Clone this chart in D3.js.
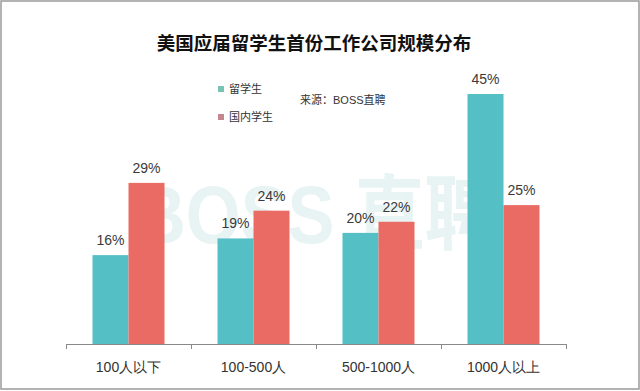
<!DOCTYPE html>
<html>
<head>
<meta charset="utf-8">
<script src="https://cdn.jsdelivr.net/npm/d3@7"></script>
<style>
  body { margin: 0; background: #fff; }
  svg { display: block; font-family: 'Liberation Sans', 'Noto Sans CJK SC', sans-serif; }
</style>
</head>
<body>
<svg></svg>
<script>
const categories = ['100人以下', '100-500人', '500-1000人', '1000人以上']
const seriesNames = ['留学生', '国内学生']
const overseas = [16, 19, 20, 45]
const domestic = [29, 24, 22, 25]

const title = '美国应届留学生首份工作公司规模分布'
const source = '来源：BOSS直聘'

const colors = ['#55bfc6', '#e96b63']
const legendColors = ['#79c3b3', '#c5878f']

const width = 640
const height = 391
const margin = ({
  top: 94,
  right: 74,
  bottom: 47,
  left: 66
})

const svg = d3.select('svg')
  .attr('width', width)
  .attr('height', height)

// one row per category
const dataset = categories.map((c, i) => ({ category: c, values: [overseas[i], domestic[i]] }))

const x = d3.scaleBand()
  .domain(categories)
  .range([margin.left, width - margin.right])

const x1 = d3.scaleBand()
  .domain(seriesNames)
  .range([0, 72])

const y = d3.scaleLinear()
  .domain([0, 45])
  .range([height - margin.bottom, margin.top])

// frame round the picture
svg.append('rect')
  .attr('x', 1)
  .attr('y', 1)
  .attr('width', 638)
  .attr('height', 388)
  .attr('fill', 'none')
  .attr('stroke', '#9a9a9a')
  .attr('stroke-width', 1.5)

// faint watermark
svg.append('text')
  .attr('x', 135)
  .attr('y', 243)
  .attr('font-size', 82)
  .attr('font-weight', 'bold')
  .attr('fill', '#e8f3f3')
  .attr('textLength', 360)
  .attr('lengthAdjust', 'spacingAndGlyphs')
  .text('BOSS 直聘')

svg.append('text')
  .attr('x', 314)
  .attr('y', 50)
  .attr('text-anchor', 'middle')
  .attr('font-family', 'Noto Sans CJK SC')
  .attr('font-size', 18.5)
  .attr('font-weight', 'bold')
  .attr('fill', '#111')
  .text(title)

function legend (g) {
  const row = g.selectAll('g')
    .data(seriesNames)
    .enter().append('g')
    .attr('transform', (d, i) => `translate(218,${89 + i * 28})`)
  row.append('rect')
    .attr('x', 0)
    .attr('y', -3)
    .attr('width', 6)
    .attr('height', 6)
    .attr('fill', (d, i) => legendColors[i])
  row.append('text')
    .attr('x', 11)
    .attr('y', 4)
    .attr('font-size', 11)
    .attr('fill', '#333')
    .text(d => d)
}

svg.append('g').call(legend)

svg.append('text')
  .attr('x', 300)
  .attr('y', 104)
  .attr('font-size', 11)
  .attr('fill', '#333')
  .text(source)

function bars (g) {
  const group = g.selectAll('g')
    .data(dataset)
    .enter().append('g')
    .attr('transform', d => `translate(${x(d.category) + (x.bandwidth() - 72) / 2},0)`)

  group.selectAll('rect')
    .data(d => d.values)
    .enter().append('rect')
    .attr('x', (d, i) => x1(seriesNames[i]))
    .attr('y', d => y(d))
    .attr('width', x1.bandwidth())
    .attr('height', d => y(0) - y(d))
    .attr('fill', (d, i) => colors[i])

  // value labels above the bars
  group.selectAll('text')
    .data(d => d.values)
    .enter().append('text')
    .attr('x', (d, i) => x1(seriesNames[i]) + x1.bandwidth() / 2)
    .attr('y', d => y(d) - 10)
    .attr('text-anchor', 'middle')
    .attr('font-size', 14)
    .attr('fill', '#3a3a3a')
    .text(d => d + '%')
}

svg.append('g').call(bars)

function xAxis (g) {
  g
    .attr('transform', `translate(0,${height - margin.bottom})`)
    .call(d3.axisBottom(x).tickSize(0).tickPadding(18))
    .call(g => g.select('.domain').attr('stroke', '#8a8a8a'))
    .call(g => g.selectAll('.tick text')
      .attr('font-size', 14)
      .attr('fill', '#333'))
  // ticks between the categories
  const edges = categories.map(c => x(c)).concat([x.range()[1]])
  g.selectAll('.edge')
    .data(edges)
    .enter().append('line')
    .attr('class', 'edge')
    .attr('x1', d => d + 0.5)
    .attr('x2', d => d + 0.5)
    .attr('y1', 0)
    .attr('y2', 5)
    .attr('stroke', '#8a8a8a')
}

svg.append('g').call(xAxis)
</script>
</body>
</html>
